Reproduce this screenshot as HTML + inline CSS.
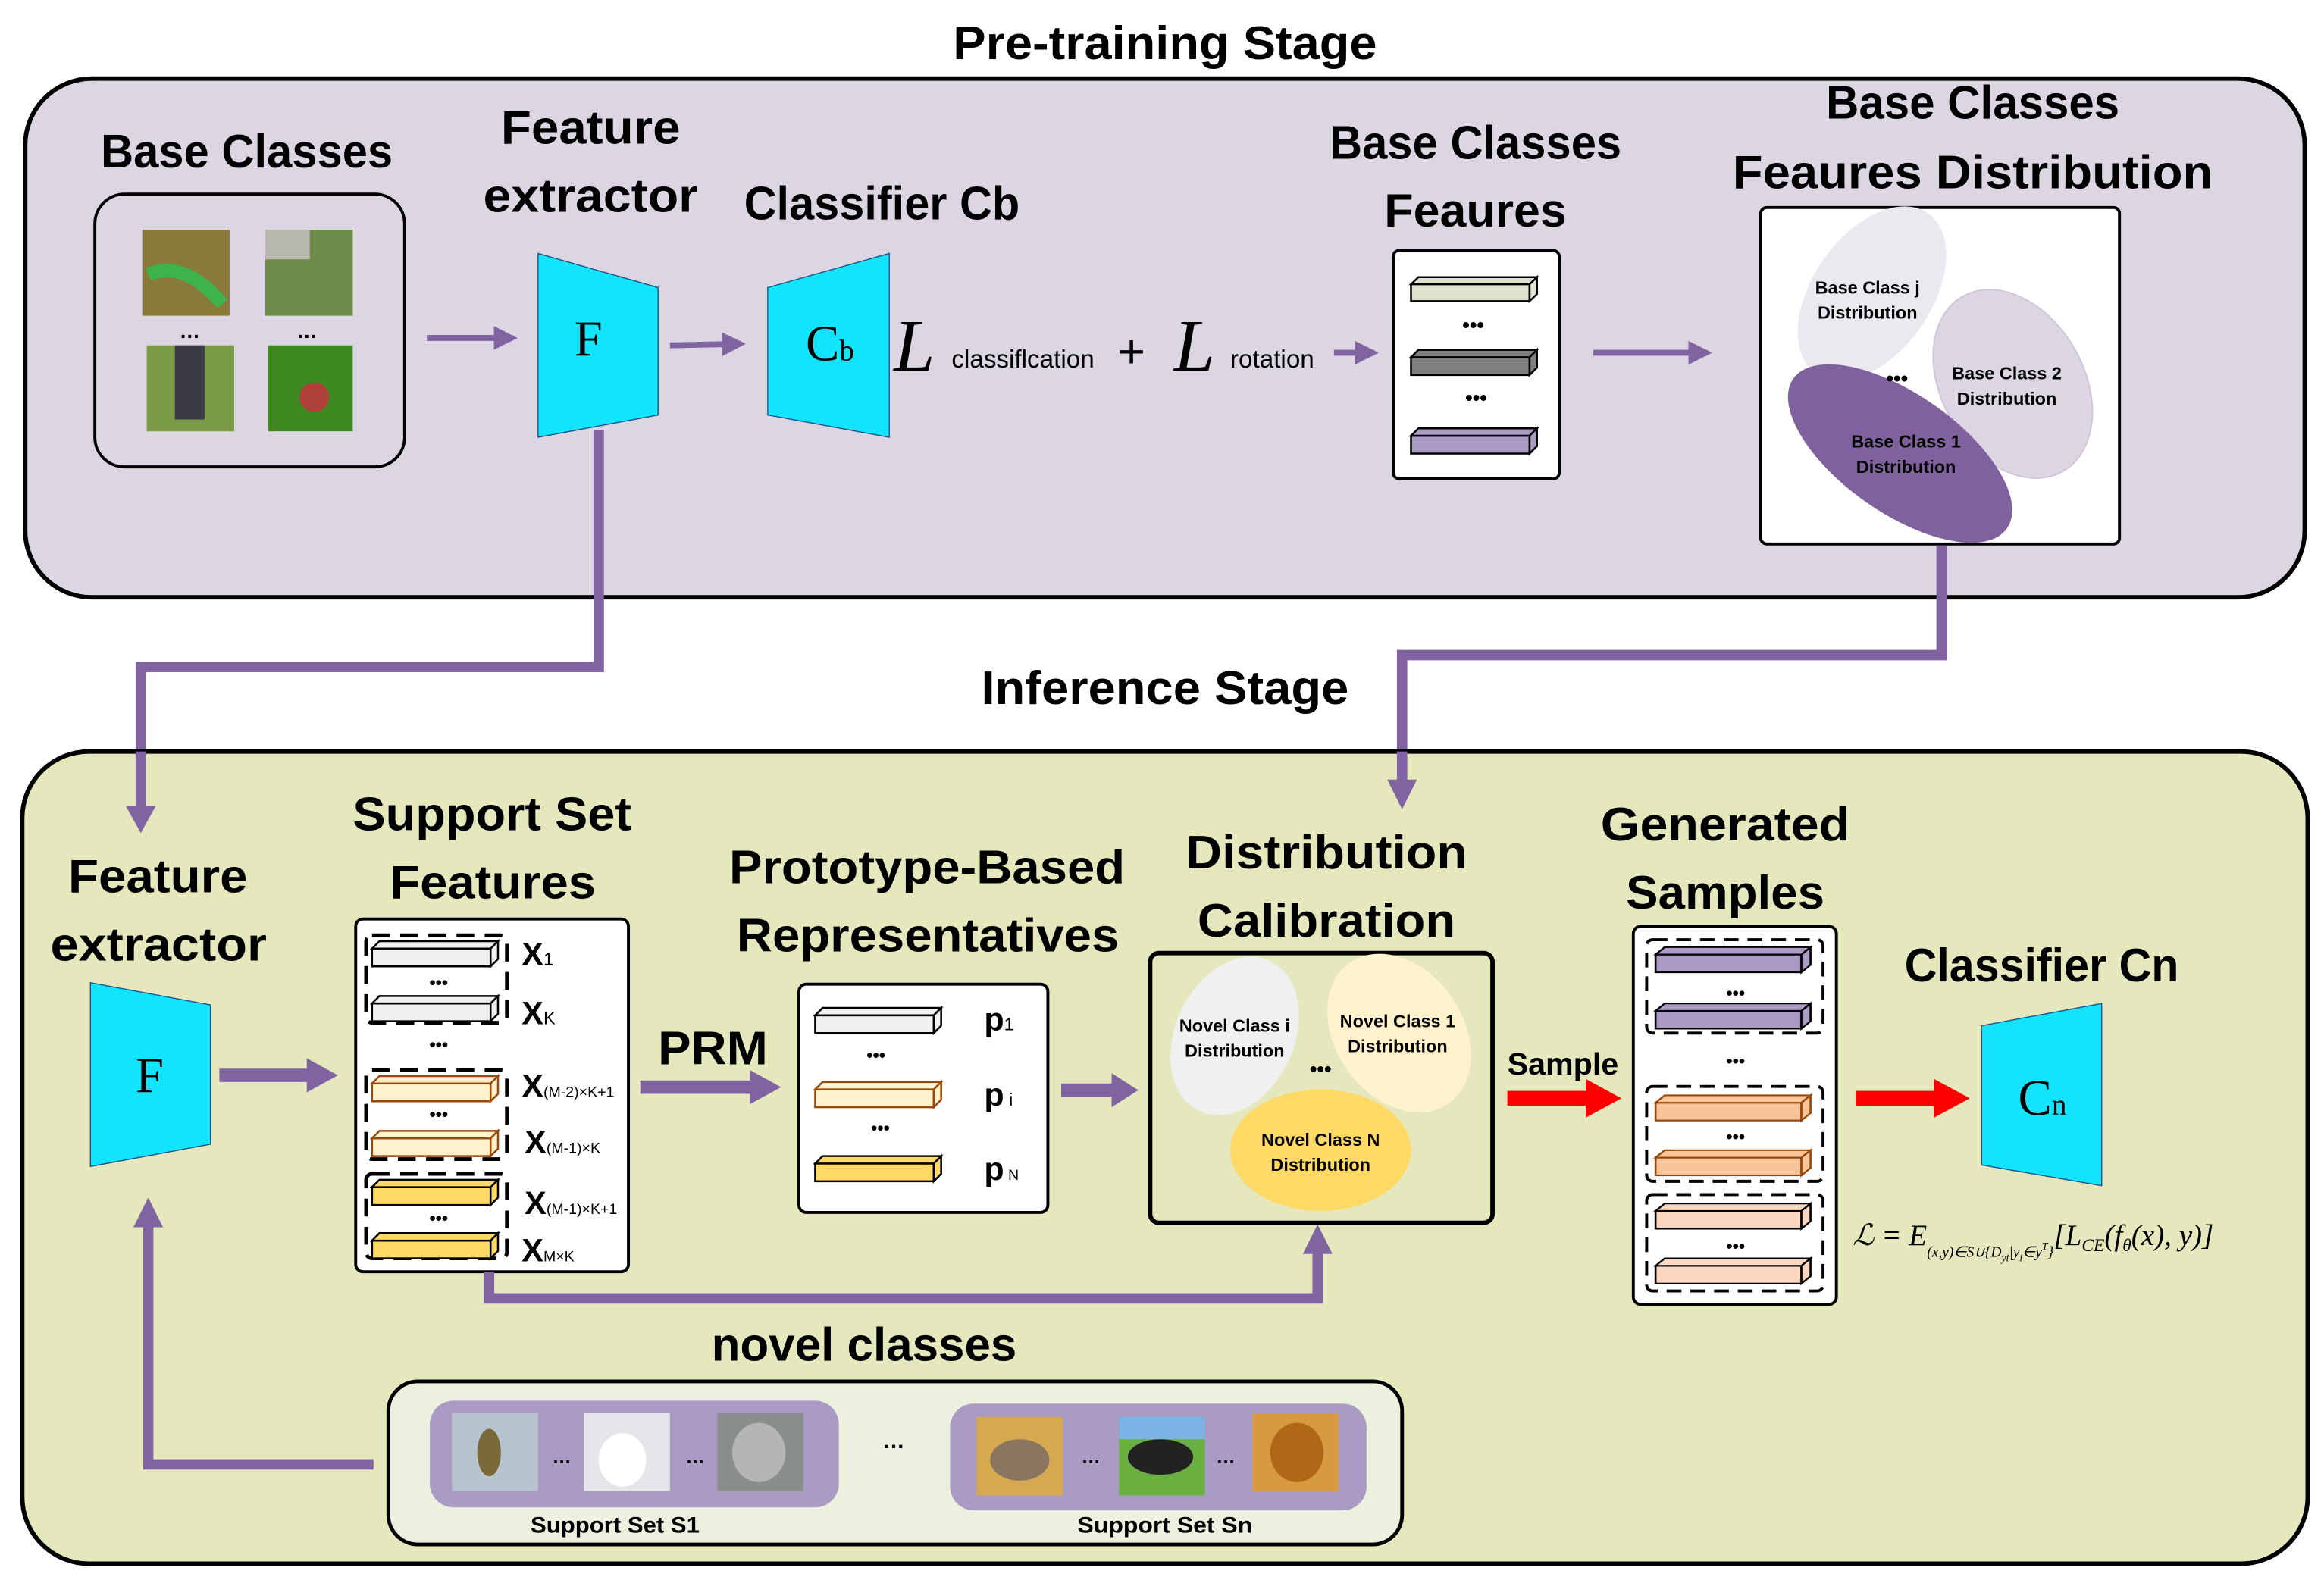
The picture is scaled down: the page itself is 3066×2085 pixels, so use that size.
<!DOCTYPE html>
<html><head><meta charset="utf-8"><style>
html,body{margin:0;padding:0;background:#fff;}
svg{display:block}
.h{font-family:"Liberation Sans",sans-serif;font-weight:bold;font-size:32px;fill:#000}
.s{font-family:"Liberation Sans",sans-serif;font-weight:bold;fill:#000}
.m{font-family:"Liberation Serif",serif;fill:#000}
</style></head><body>
<svg width="3066" height="2085" viewBox="0 0 1568 1066" preserveAspectRatio="none" xmlns="http://www.w3.org/2000/svg">
<defs>
<g id="bar"><rect x="0" y="5" width="80" height="12"/><polygon points="0,5 5,0 85,0 80,5"/><polygon points="80,5 85,0 85,12 80,17"/></g>
<marker id="ap" viewBox="0 0 10 10" refX="8" refY="5" markerWidth="4" markerHeight="4" orient="auto" markerUnits="strokeWidth"><path d="M0,0 L10,5 L0,10z" fill="#8064a2"/></marker>
</defs>
<rect width="1568" height="1066" fill="#fff"/>
<text class="h" x="643" y="40" textLength="286" lengthAdjust="spacingAndGlyphs">Pre-training Stage</text>
<rect x="17" y="53" width="1538" height="350" rx="45" fill="#dcd5e2" stroke="#000" stroke-width="3"/>
<text class="h" x="68" y="113" textLength="197" lengthAdjust="spacingAndGlyphs">Base Classes</text>
<rect x="64" y="131" width="209" height="184" rx="20" fill="none" stroke="#000" stroke-width="2"/>
<rect x="96" y="155" width="59" height="58" fill="#8a7a3a"/><path d="M100,185 Q125,175 150,205" stroke="#3cb44b" stroke-width="9" fill="none"/>
<rect x="179" y="155" width="59" height="58" fill="#6e8b4a"/><rect x="179" y="155" width="30" height="20" fill="#b8b8b0"/>
<rect x="99" y="233" width="59" height="58" fill="#7a9a45"/><rect x="118" y="233" width="20" height="50" fill="#3a3a44"/>
<rect x="181" y="233" width="57" height="58" fill="#3e8a20"/><circle cx="212" cy="268" r="10" fill="#b0403a"/>
<text class="s" x="128" y="228" font-size="14" text-anchor="middle">…</text>
<text class="s" x="207" y="228" font-size="14" text-anchor="middle">…</text>
<line x1="288" y1="228" x2="346" y2="228" stroke="#8064a2" stroke-width="4" marker-end="url(#ap)"/>
<text class="h" x="338" y="97" textLength="121" lengthAdjust="spacingAndGlyphs">Feature</text>
<text class="h" x="326" y="143" textLength="145" lengthAdjust="spacingAndGlyphs">extractor</text>
<polygon points="363,171 444,194 444,280 363,295" fill="#12e4fb" stroke="#1a4f8a" stroke-width="0.7"/>
<text class="m" x="397" y="240" font-size="34" text-anchor="middle">F</text>
<line x1="452" y1="233" x2="500" y2="232" stroke="#8064a2" stroke-width="4" marker-end="url(#ap)"/>
<text class="h" x="502" y="148" textLength="186" lengthAdjust="spacingAndGlyphs">Classifier Cb</text>
<polygon points="518,194 600,171 600,295 518,280" fill="#12e4fb" stroke="#1a4f8a" stroke-width="0.7"/>
<text class="m" x="560" y="243" font-size="34" text-anchor="middle">C<tspan font-size="20">b</tspan></text>
<text class="m" x="603" y="250" font-size="50" font-style="italic">L</text>
<text x="642" y="248" font-family="Liberation Sans" font-size="17">classiflcation</text>
<text x="754" y="248" font-family="Liberation Sans" font-size="32">+</text>
<text class="m" x="792" y="250" font-size="50" font-style="italic">L</text>
<text x="830" y="248" font-family="Liberation Sans" font-size="17">rotation</text>
<line x1="900" y1="238" x2="927" y2="238" stroke="#8064a2" stroke-width="4" marker-end="url(#ap)"/>
<text class="h" x="897" y="107" textLength="197" lengthAdjust="spacingAndGlyphs">Base Classes</text>
<text class="h" x="934" y="153" textLength="123" lengthAdjust="spacingAndGlyphs">Feaures</text>
<rect x="940" y="169" width="112" height="154" rx="4" fill="#fff" stroke="#000" stroke-width="2"/>
<use href="#bar" transform="translate(952,187) scale(1,0.95)" fill="#dfe3ce" stroke="#000" stroke-width="1.3"/>
<use href="#bar" transform="translate(952,236)" fill="#7f7f7f" stroke="#000" stroke-width="1.3"/>
<use href="#bar" transform="translate(952,289)" fill="#a99bc4" stroke="#000" stroke-width="1.3"/>
<text class="s" x="994" y="224" font-size="14" text-anchor="middle">•••</text>
<text class="s" x="996" y="273" font-size="14" text-anchor="middle">•••</text>
<line x1="1075" y1="238" x2="1152" y2="238" stroke="#8064a2" stroke-width="4" marker-end="url(#ap)"/>
<text class="h" x="1232" y="80" textLength="198" lengthAdjust="spacingAndGlyphs">Base Classes</text>
<text class="h" x="1169" y="127" textLength="324" lengthAdjust="spacingAndGlyphs">Feaures Distribution</text>
<rect x="1188" y="140" width="242" height="227" rx="4" fill="#fff" stroke="#000" stroke-width="2"/>
<ellipse cx="1263" cy="198" rx="40" ry="66" transform="rotate(35 1263 198)" fill="#ebe8ef"/>
<ellipse cx="1358" cy="259" rx="48" ry="68" transform="rotate(-30 1358 259)" fill="#dcd5e2" stroke="#cfc6dc"/>
<ellipse cx="1282" cy="306" rx="40" ry="88" transform="rotate(-55 1282 306)" fill="#7f629d"/>
<g class="s" font-size="12" text-anchor="middle">
<text x="1260" y="198">Base Class j</text><text x="1260" y="215">Distribution</text>
<text x="1354" y="256">Base Class 2</text><text x="1354" y="273">Distribution</text>
<text x="1286" y="302">Base Class 1</text><text x="1286" y="319">Distribution</text>
<text x="1280" y="260" font-size="14">•••</text></g>
<polyline points="404,290 404,450 95,450 95,552" fill="none" stroke="#8064a2" stroke-width="7"/>
<polyline points="1310,368 1310,442 946,442 946,530" fill="none" stroke="#8064a2" stroke-width="7"/>
<text class="h" x="662" y="475" textLength="248" lengthAdjust="spacingAndGlyphs">Inference Stage</text>
<rect x="15" y="507" width="1542" height="548" rx="45" fill="#e5e7bc" stroke="#000" stroke-width="3"/>
<polyline points="95,507 95,552" stroke="#8064a2" stroke-width="7"/>
<polygon points="85,544 105,544 95,562" fill="#8064a2"/>
<polyline points="946,507 946,530" stroke="#8064a2" stroke-width="7"/>
<polygon points="936,526 956,526 946,546" fill="#8064a2"/>
<text class="h" x="46" y="602" textLength="121" lengthAdjust="spacingAndGlyphs">Feature</text>
<text class="h" x="34" y="648" textLength="146" lengthAdjust="spacingAndGlyphs">extractor</text>
<polygon points="61,663 142,678 142,772 61,787" fill="#12e4fb" stroke="#1a4f8a" stroke-width="0.7"/>
<text class="m" x="101" y="737" font-size="34" text-anchor="middle">F</text>
<rect x="148" y="721" width="60" height="9" fill="#8064a2"/><polygon points="207,714 228,725.5 207,737" fill="#8064a2"/>
<text class="h" x="238" y="560" textLength="188" lengthAdjust="spacingAndGlyphs">Support Set</text>
<text class="h" x="263" y="606" textLength="139" lengthAdjust="spacingAndGlyphs">Features</text>
<rect x="240" y="620" width="184" height="238" rx="5" fill="#fff" stroke="#000" stroke-width="2"/>
<g fill="none" stroke="#000" stroke-width="2.5" stroke-dasharray="12,7">
<rect x="247" y="631" width="95" height="59" rx="4"/>
<rect x="247" y="722" width="95" height="60" rx="4"/>
<rect x="247" y="792" width="95" height="57" rx="4"/></g>
<g stroke="#000" stroke-width="1.3">
<use href="#bar" transform="translate(251,635)" fill="#f0f0f0"/>
<use href="#bar" transform="translate(251,672)" fill="#f0f0f0"/>
</g>
<g stroke="#984807" stroke-width="1.3">
<use href="#bar" transform="translate(251,726)" fill="#fff2cc"/>
<use href="#bar" transform="translate(251,763)" fill="#fff2cc"/>
</g>
<g stroke="#000" stroke-width="1.3">
<use href="#bar" transform="translate(251,796)" fill="#ffd966"/>
<use href="#bar" transform="translate(251,832)" fill="#ffd966"/>
</g>
<g class="s" font-size="12" text-anchor="middle"><text x="296" y="667">•••</text><text x="296" y="709">•••</text><text x="296" y="756">•••</text><text x="296" y="826">•••</text></g>
<g class="s"><text x="352" y="651" font-size="22">X<tspan font-size="12" font-weight="normal">1</tspan></text>
<text x="352" y="691" font-size="22">X<tspan font-size="12" font-weight="normal">K</tspan></text>
<text x="352" y="740" font-size="22">X<tspan font-size="10" font-weight="normal">(M-2)×K+1</tspan></text>
<text x="354" y="778" font-size="22">X<tspan font-size="10" font-weight="normal">(M-1)×K</tspan></text>
<text x="354" y="819" font-size="22">X<tspan font-size="10" font-weight="normal">(M-1)×K+1</tspan></text>
<text x="352" y="851" font-size="22">X<tspan font-size="10" font-weight="normal">M×K</tspan></text></g>
<text class="h" x="444" y="718" textLength="74" lengthAdjust="spacingAndGlyphs">PRM</text>
<rect x="432" y="729" width="75" height="9" fill="#8064a2"/><polygon points="506,722 527,733.5 506,745" fill="#8064a2"/>
<text class="h" x="492" y="596" textLength="267" lengthAdjust="spacingAndGlyphs">Prototype-Based</text>
<text class="h" x="497" y="642" textLength="258" lengthAdjust="spacingAndGlyphs">Representatives</text>
<rect x="539" y="664" width="168" height="154" rx="5" fill="#fff" stroke="#000" stroke-width="2"/>
<use href="#bar" transform="translate(550,680)" fill="#f0f0f0" stroke="#000" stroke-width="1.3"/>
<use href="#bar" transform="translate(550,730)" fill="#fff2cc" stroke="#984807" stroke-width="1.3"/>
<use href="#bar" transform="translate(550,780)" fill="#ffd966" stroke="#000" stroke-width="1.3"/>
<g class="s" font-size="12" text-anchor="middle"><text x="591" y="716">•••</text><text x="594" y="765">•••</text></g>
<g class="s" font-size="22"><text x="664" y="695">p<tspan font-size="12" font-weight="normal">1</tspan></text>
<text x="664" y="746">p<tspan font-size="12" font-weight="normal"> i</tspan></text>
<text x="664" y="796">p<tspan font-size="10" font-weight="normal"> N</tspan></text></g>
<rect x="716" y="731" width="35" height="9" fill="#8064a2"/><polygon points="750,724 768,735.5 750,747" fill="#8064a2"/>
<text class="h" x="800" y="586" textLength="190" lengthAdjust="spacingAndGlyphs">Distribution</text>
<text class="h" x="808" y="632" textLength="174" lengthAdjust="spacingAndGlyphs">Calibration</text>
<rect x="776" y="643" width="231" height="182" rx="6" fill="none" stroke="#000" stroke-width="3"/>
<ellipse cx="833" cy="699" rx="40" ry="56" transform="rotate(25 833 699)" fill="#f0f0f0"/>
<ellipse cx="944" cy="697" rx="43" ry="58" transform="rotate(-35 944 697)" fill="#fff2cc"/>
<ellipse cx="891" cy="776" rx="61" ry="41" fill="#ffd966"/>
<g class="s" font-size="12" text-anchor="middle">
<text x="833" y="696">Novel Class i</text><text x="833" y="713">Distribution</text>
<text x="943" y="693">Novel Class 1</text><text x="943" y="710">Distribution</text>
<text x="891" y="773">Novel Class N</text><text x="891" y="790">Distribution</text>
<text x="891" y="726" font-size="14">•••</text></g>
<polyline points="330,858 330,876 889,876 889,842" fill="none" stroke="#8064a2" stroke-width="7"/>
<polygon points="879,846 899,846 889,826" fill="#8064a2"/>
<text class="s" x="1017" y="725" font-size="21" textLength="75" lengthAdjust="spacingAndGlyphs">Sample</text>
<rect x="1017" y="736" width="54" height="10" fill="#f00"/><polygon points="1070,728 1094,741 1070,754" fill="#f00"/>
<text class="h" x="1080" y="567" textLength="168" lengthAdjust="spacingAndGlyphs">Generated</text>
<text class="h" x="1097" y="613" textLength="134" lengthAdjust="spacingAndGlyphs">Samples</text>
<rect x="1102" y="625" width="137" height="255" rx="5" fill="#fff" stroke="#000" stroke-width="2"/>
<g fill="none" stroke="#000" stroke-width="2" stroke-dasharray="10,6">
<rect x="1111" y="634" width="119" height="63" rx="4"/>
<rect x="1111" y="733" width="119" height="64" rx="4"/>
<rect x="1111" y="806" width="119" height="65" rx="4"/></g>
<use href="#bar" transform="translate(1117,639) scale(1.23,1)" fill="#a99bc4" stroke="#000" stroke-width="1.1"/>
<use href="#bar" transform="translate(1117,677) scale(1.23,1)" fill="#a99bc4" stroke="#000" stroke-width="1.1"/>
<use href="#bar" transform="translate(1117,739) scale(1.23,1)" fill="#f8c49a" stroke="#984807" stroke-width="1.1"/>
<use href="#bar" transform="translate(1117,776) scale(1.23,1)" fill="#f8c49a" stroke="#984807" stroke-width="1.1"/>
<use href="#bar" transform="translate(1117,812) scale(1.23,1)" fill="#fbd7c0" stroke="#000" stroke-width="1.1"/>
<use href="#bar" transform="translate(1117,849) scale(1.23,1)" fill="#fbd7c0" stroke="#000" stroke-width="1.1"/>
<g class="s" font-size="12" text-anchor="middle"><text x="1171" y="674">•••</text><text x="1171" y="720">•••</text><text x="1171" y="771">•••</text><text x="1171" y="845">•••</text></g>
<rect x="1252" y="736" width="54" height="10" fill="#f00"/><polygon points="1305,728 1329,741 1305,754" fill="#f00"/>
<text class="h" x="1285" y="662" textLength="185" lengthAdjust="spacingAndGlyphs">Classifier Cn</text>
<polygon points="1337,692 1418,677 1418,800 1337,786" fill="#12e4fb" stroke="#1a4f8a" stroke-width="0.7"/>
<text class="m" x="1378" y="752" font-size="34" text-anchor="middle">C<tspan font-size="20">n</tspan></text>
<text class="m" x="1250" y="840" font-size="20" font-style="italic">ℒ = E<tspan font-size="10" dy="8">(x,y)∈S∪{D</tspan><tspan font-size="7" dy="3">yi</tspan><tspan font-size="10" dy="-3">|y</tspan><tspan font-size="7" dy="3">i</tspan><tspan font-size="10" dy="-3">∈y</tspan><tspan font-size="7" dy="-5">T</tspan><tspan font-size="10" dy="5">}</tspan><tspan dy="-8">[L</tspan><tspan font-size="12" dy="4">CE</tspan><tspan dy="-4">(f</tspan><tspan font-size="12" dy="4">θ</tspan><tspan dy="-4">(x), y)]</tspan></text>
<text class="h" x="480" y="918" textLength="206" lengthAdjust="spacingAndGlyphs">novel classes</text>
<rect x="262" y="932" width="684" height="110" rx="20" fill="#ebf1de" stroke="#000" stroke-width="2.5"/>
<rect x="290" y="945" width="276" height="72" rx="16" fill="#a99bc4"/>
<rect x="641" y="947" width="281" height="72" rx="16" fill="#a99bc4"/>
<rect x="305" y="953" width="58" height="53" fill="#b7c4d0"/><ellipse cx="330" cy="980" rx="8" ry="16" fill="#7a6a3a"/>
<rect x="394" y="953" width="58" height="53" fill="#e6e6ea"/><ellipse cx="420" cy="985" rx="16" ry="18" fill="#fff"/>
<rect x="484" y="953" width="58" height="53" fill="#8a8e8a"/><ellipse cx="512" cy="980" rx="18" ry="20" fill="#b5b5b5"/>
<rect x="659" y="956" width="58" height="53" fill="#d6a850"/><ellipse cx="688" cy="985" rx="20" ry="14" fill="#8a7660"/>
<rect x="755" y="956" width="58" height="53" fill="#6ab040"/><rect x="755" y="956" width="58" height="15" fill="#7ab4e8"/><ellipse cx="783" cy="983" rx="22" ry="12" fill="#222"/>
<rect x="845" y="953" width="58" height="53" fill="#d89a40"/><ellipse cx="875" cy="980" rx="18" ry="20" fill="#b06818"/>
<g class="s" font-size="13" text-anchor="middle"><text x="379" y="987">…</text><text x="469" y="987">…</text><text x="736" y="987">…</text><text x="827" y="987">…</text><text x="603" y="977" font-size="15">…</text></g>
<text class="s" x="358" y="1034" font-size="15" textLength="114" lengthAdjust="spacingAndGlyphs">Support Set S1</text>
<text class="s" x="727" y="1034" font-size="15" textLength="118" lengthAdjust="spacingAndGlyphs">Support Set Sn</text>
<polyline points="252,988 100,988 100,826" fill="none" stroke="#8064a2" stroke-width="7"/>
<polygon points="90,828 110,828 100,808" fill="#8064a2"/>
</svg>
</body></html>
